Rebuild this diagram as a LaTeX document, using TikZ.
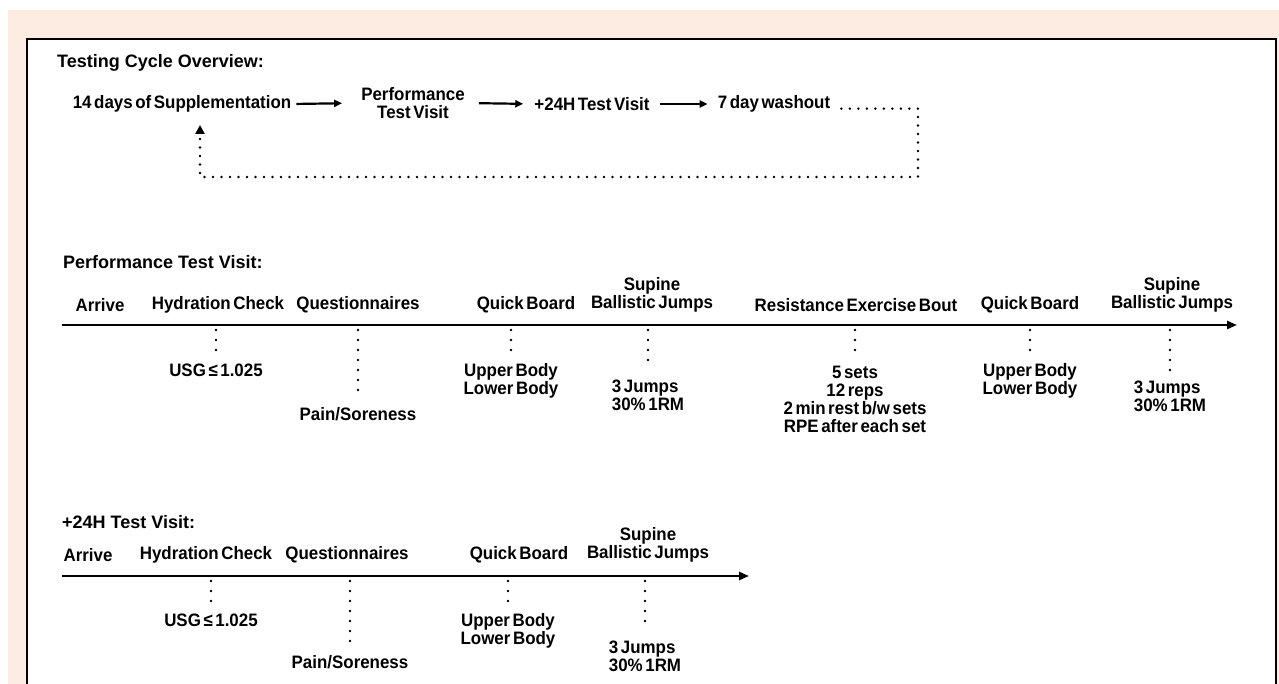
\documentclass[tikz,border=0pt]{standalone}
\usepackage{fontspec}
\setmainfont{Liberation Sans}[WordSpace=0.55, FakeStretch=0.94]
\newfontfamily\headfont{Liberation Sans}
\usetikzlibrary{arrows.meta}
\definecolor{peach}{RGB}{252,236,226}

\begin{document}
\begin{tikzpicture}[x = 1pt, y = -1pt,
    lbl/.style      = {font = \bfseries\fontsize{18}{18}\selectfont, align = center, inner sep = 1pt},
    heading/.style  = {font = \headfont\bfseries\fontsize{18}{20}\selectfont, anchor = west, inner sep = 0pt},
    flow/.style     = {line width = 2.2pt, -{Triangle[length = 8pt, width = 7pt]}},
    timeline/.style = {line width = 2.8pt, -{Triangle[length = 10pt, width = 8pt]}},
    dotsdown/.style = {line width = 2.8pt, line cap = round, dash pattern = on 0pt off 10pt, shorten < = 5pt, shorten > = 9pt},
    loopline/.style = {line width = 2.6pt, line cap = round, dash pattern = on 0pt off 8.5pt}]

  \useasboundingbox (0,0) rectangle (1279,684);
  \clip (0,0) rectangle (1279,684);
  \fill[peach] (0,0) rectangle (1279,684);
  \fill[white] (0,0) rectangle (1279,10);
  \fill[white] (0,0) rectangle (8,684);
  \draw[line width = 2.8pt, fill = white] (27,700) -- (27,39) -- (1276,39) -- (1276,700);

  \node[heading] at ( 57, 63) (ttl1) {Testing Cycle Overview:};
  \node[lbl]     at (182,104) (supp) {14 days of Supplementation};
  \node[lbl]     at (413,103) (ptv)  {Performance\\Test Visit};
  \node[lbl]     at (592,104) (h24)  {+24H Test Visit};
  \node[lbl]     at (774,104) (wash) {7 day washout};

  \draw[flow, shorten < = 4pt,  shorten > = 18pt] (supp.east) -- (ptv.west);
  \draw[flow, shorten < = 13pt, shorten > = 10pt] (ptv.east)  -- (h24.west);
  \draw[flow, shorten < = 9pt,  shorten > = 9pt]  (h24.east)  -- (wash.west);

  \coordinate (loopR) at (918,177);
  \coordinate (loopL) at (200,177);
  \coordinate (loopT) at (200,125);
  \draw[loopline, shorten < = 10pt, -{Triangle[length = 9pt, width = 9pt]}]
    (wash.base east) -| (loopR) -- (loopL) -- (loopT);

  \node[heading] at (  63,262) (ttl2) {Performance Test Visit:};
  \node[lbl]     at ( 100,305) (arr1) {Arrive};
  \node[lbl]     at ( 218,305) (hyd1) {Hydration Check};
  \node[lbl]     at ( 358,305) (que1) {Questionnaires};
  \node[lbl]     at ( 526,305) (qbd1) {Quick Board};
  \node[lbl]     at ( 652,295) (sbj1) {Supine\\Ballistic Jumps};
  \node[lbl]     at ( 856,305) (reb1) {Resistance Exercise Bout};
  \node[lbl]     at (1030,305) (qbd2) {Quick Board};
  \node[lbl]     at (1172,295) (sbj2) {Supine\\Ballistic Jumps};

  \coordinate (ax1s) at (  62,325);
  \coordinate (ax1e) at (1237,325);
  \draw[timeline] (ax1s) -- (ax1e);

  \node[lbl]               at ( 216,370) (usg1)  {USG ≤ 1.025};
  \node[lbl]               at ( 358,414) (pain1) {Pain/Soreness};
  \node[lbl]               at ( 511,381) (body1) {Upper Body\\Lower Body};
  \node[lbl, align = left] at ( 648,395) (jmp1)  {3 Jumps\\30\% 1RM};
  \node[lbl]               at ( 855,399) (sets1) {5 sets\\12 reps\\2 min rest b/w sets\\RPE after each set};
  \node[lbl]               at (1030,381) (body2) {Upper Body\\Lower Body};
  \node[lbl, align = left] at (1170,396) (jmp2)  {3 Jumps\\30\% 1RM};

  \draw[dotsdown] (usg1.north  |- ax1s) -- (usg1.north);
  \draw[dotsdown] (pain1.north |- ax1s) -- (pain1.north);
  \draw[dotsdown] (body1.north |- ax1s) -- (body1.north);
  \draw[dotsdown] (jmp1.north  |- ax1s) -- (jmp1.north);
  \draw[dotsdown] (sets1.north |- ax1s) -- (sets1.north);
  \draw[dotsdown] (body2.north |- ax1s) -- (body2.north);
  \draw[dotsdown] (jmp2.north  |- ax1s) -- (jmp2.north);

  \node[heading] at ( 62,522) (ttl3) {+24H Test Visit:};
  \node[lbl]     at ( 88,555) (arr2) {Arrive};
  \node[lbl]     at (206,555) (hyd2) {Hydration Check};
  \node[lbl]     at (347,555) (que2) {Questionnaires};
  \node[lbl]     at (519,555) (qbd3) {Quick Board};
  \node[lbl]     at (648,545) (sbj3) {Supine\\Ballistic Jumps};

  \coordinate (ax2s) at ( 62,576);
  \coordinate (ax2e) at (749,576);
  \draw[timeline] (ax2s) -- (ax2e);

  \node[lbl]               at (211,620) (usg2)  {USG ≤ 1.025};
  \node[lbl]               at (350,662) (pain2) {Pain/Soreness};
  \node[lbl]               at (508,631) (body3) {Upper Body\\Lower Body};
  \node[lbl, align = left] at (645,656) (jmp3)  {3 Jumps\\30\% 1RM};

  \draw[dotsdown] (usg2.north  |- ax2s) -- (usg2.north);
  \draw[dotsdown] (pain2.north |- ax2s) -- (pain2.north);
  \draw[dotsdown] (body3.north |- ax2s) -- (body3.north);
  \draw[dotsdown] (jmp3.north  |- ax2s) -- (jmp3.north);
\end{tikzpicture}
\end{document}
